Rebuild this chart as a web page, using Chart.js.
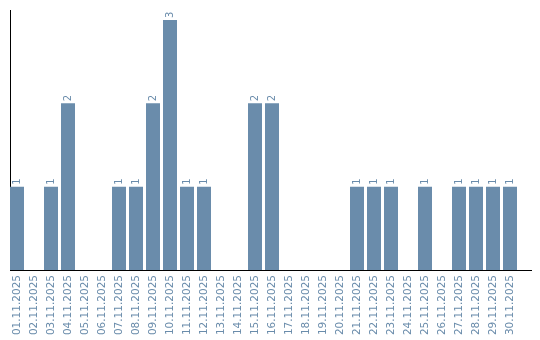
<!DOCTYPE html>
<html>
<head>
<meta charset="utf-8">
<script src="https://cdn.jsdelivr.net/npm/chart.js@4"></script>
<style>
html,body{margin:0;padding:0;background:#fff;}
canvas{display:block;}
</style>
</head>
<body>
<canvas id="c" width="540" height="340"></canvas>
<script>
const categories = ["01.11.2025","02.11.2025","03.11.2025","04.11.2025","05.11.2025","06.11.2025","07.11.2025","08.11.2025","09.11.2025","10.11.2025","11.11.2025","12.11.2025","13.11.2025","14.11.2025","15.11.2025","16.11.2025","17.11.2025","18.11.2025","19.11.2025","20.11.2025","21.11.2025","22.11.2025","23.11.2025","24.11.2025","25.11.2025","26.11.2025","27.11.2025","28.11.2025","29.11.2025","30.11.2025"];
const counts = [1,0,1,2,0,0,1,1,2,3,1,1,0,0,2,2,0,0,0,0,1,1,1,0,1,0,1,1,1,1];

const BAR = '#6a8cab';
const FAMILY = '"DejaVu Sans", sans-serif';

const points = categories.map((c, i) => ({ x: i, y: counts[i] }));

const valueLabels = {
  id: 'valueLabels',
  afterDatasetsDraw(chart) {
    const ctx = chart.ctx;
    const meta = chart.getDatasetMeta(0);
    ctx.save();
    ctx.font = '10px ' + FAMILY;
    ctx.fillStyle = BAR;
    ctx.textAlign = 'left';
    ctx.textBaseline = 'middle';
    meta.data.forEach((el, i) => {
      const v = counts[i];
      if (!v) return;
      ctx.save();
      ctx.translate(el.x, el.y - 2);
      ctx.rotate(-Math.PI / 2);
      ctx.fillText(String(v), 0, 0);
      ctx.restore();
    });
    ctx.restore();
  }
};

new Chart(document.getElementById('c'), {
  type: 'bar',
  data: {
    datasets: [{
      data: points,
      backgroundColor: BAR,
      borderWidth: 0,
      barPercentage: 14 / 17,
      categoryPercentage: 1.0
    }]
  },
  options: {
    responsive: false,
    animation: false,
    layout: { padding: { left: 10, right: 9, top: 10, bottom: 0 } },
    plugins: { legend: { display: false }, tooltip: { enabled: false } },
    scales: {
      x: {
        type: 'linear',
        offset: false,
        min: -7 / 17,
        max: -7 / 17 + 521 / 17,
        grid: { display: false, drawTicks: false, offset: false },
        border: { display: true, color: '#000', width: 1 },
        ticks: {
          stepSize: 1,
          includeBounds: false,
          autoSkip: false,
          maxRotation: 90,
          minRotation: 90,
          padding: 5,
          color: BAR,
          font: { family: FAMILY, size: 10.5 },
          callback: (v) => (Number.isInteger(v) && categories[v]) ? categories[v] : ''
        },
        afterFit(scale) {
          scale.height = 70;
          scale.paddingLeft = 0;
          scale.paddingRight = 0;
        }
      },
      y: {
        min: 0,
        max: 3.12,
        grid: { display: false, drawTicks: false },
        border: { display: true, color: '#000', width: 1 },
        ticks: { display: false },
        afterFit(scale) {
          scale.width = 0;
          scale.paddingTop = 0;
          scale.paddingBottom = 0;
        }
      }
    }
  },
  plugins: [valueLabels]
});
</script>
</body>
</html>
